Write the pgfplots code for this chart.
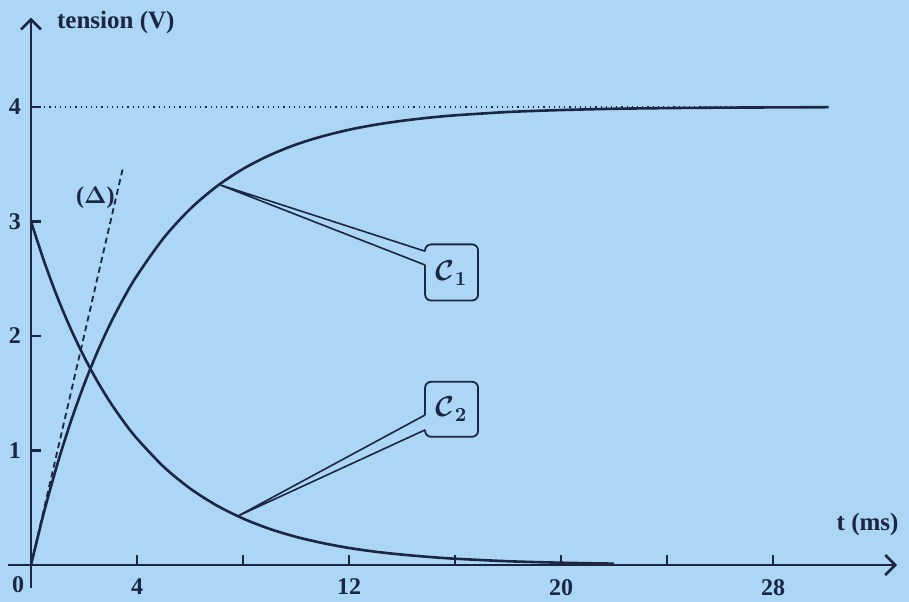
\documentclass[border=0pt]{standalone}
\usepackage{pgfplots}
\pgfplotsset{compat=1.18}
\usepackage{bm}
\usepackage{fontspec}
\setmainfont{Liberation Serif}
\usetikzlibrary{backgrounds,arrows.meta}

\definecolor{paper}{RGB}{172,214,246}
\definecolor{ink}{RGB}{28,38,66}

\begin{document}
\begin{tikzpicture}[show background rectangle, inner frame sep=0pt,
  background rectangle/.style={fill=paper, draw=none}]
\begin{axis}[
  scale only axis, width=444.5pt, height=285.1pt,
  xmin=-0.87, xmax=32.68, ymin=-0.2, ymax=4.78,
  axis lines=middle,
  axis line style={ink, line width=1.3pt, -{Straight Barb[length=5pt,width=10pt,line width=1.3pt]}},
  tick align=center, major tick length=5pt,
  tick style={ink, line width=1.2pt},
  xtick style={yshift=2.5pt},
  ytick style={xshift=2.5pt},
  xtick={4,8,...,28}, xticklabels={4,,12,,20,,28},
  ytick={1,2,3,4},
  ticklabel style={font=\bfseries\fontsize{12}{13}\selectfont, text=ink},
  xticklabel style={yshift=-1pt},
  yticklabel style={xshift=1pt},
  /pgf/number format/assume math mode=true,
  clip=false,
]
% callout for C1
\draw[ink, line width=0.8pt] (axis cs:14.87,2.62) -- (axis cs:7.1,3.322) -- (axis cs:14.87,2.74);
\draw[ink, line width=0.9pt, rounded corners=3pt] (axis cs:14.87,2.74) -- (axis cs:14.87,2.80) -- (axis cs:16.87,2.80) -- (axis cs:16.87,2.31) -- (axis cs:14.87,2.31) -- (axis cs:14.87,2.62);
\node[text=ink, font=\fontsize{14}{15}\selectfont] at (axis cs:15.87,2.55) {$\bm{\mathcal{C}}_{\bm{1}}$};
% callout for C2
\draw[ink, line width=0.8pt] (axis cs:14.87,1.31) -- (axis cs:7.8,0.427) -- (axis cs:14.87,1.18);
\draw[ink, line width=0.9pt, rounded corners=3pt] (axis cs:14.87,1.18) -- (axis cs:14.87,1.12) -- (axis cs:16.87,1.12) -- (axis cs:16.87,1.60) -- (axis cs:14.87,1.60) -- (axis cs:14.87,1.31);
\node[text=ink, font=\fontsize{14}{15}\selectfont] at (axis cs:15.87,1.36) {$\bm{\mathcal{C}}_{\bm{2}}$};

% asymptote and tangent at the origin
\addplot[ink, line width=0.6pt, dotted] coordinates {(0.3,4) (30,4)};
\addplot[ink, line width=0.9pt, dash pattern=on 3pt off 2pt] coordinates {(0,0) (3.47,3.47)};

% C1 : charging curve
\addplot[ink, line width=1.3pt, smooth] coordinates {
 (0,0) (0.5,0.470) (1,0.885) (1.5,1.251) (2,1.574) (2.5,1.859) (3,2.111)
 (3.5,2.332) (4,2.528) (5,2.854) (6,3.108) (7,3.305) (8,3.459) (9,3.578)
 (10,3.672) (11,3.744) (12,3.801) (13,3.845) (14,3.879) (15,3.906)
 (16,3.927) (18,3.956) (20,3.973) (22,3.984) (24,3.990) (26,3.994)
 (28,3.996) (30.1,3.998)};
% C2 : decaying curve
\addplot[ink, line width=1.3pt, smooth] coordinates {
 (0,3) (0.5,2.648) (1,2.336) (1.5,2.062) (2,1.820) (2.5,1.606) (3,1.417)
 (3.5,1.251) (4,1.104) (5,0.859) (6,0.669) (7,0.521) (8,0.406) (9,0.316)
 (10,0.246) (11,0.192) (12,0.149) (13,0.116) (14,0.091) (15,0.071)
 (16,0.055) (18,0.033) (20,0.020) (22,0.012)};

% labels
\node[text=ink, font=\bfseries\fontsize{12}{13}\selectfont] at (axis cs:2.43,3.21) {($\bm{\Delta}$)};
\node[text=ink, font=\bfseries\fontsize{12.5}{14}\selectfont, anchor=west] at (axis cs:0.72,4.74) {tension (V)};
\node[text=ink, font=\bfseries\fontsize{12.5}{14}\selectfont, anchor=east] at (axis cs:33.0,0.35) {t (ms)};
\node[text=ink, font=\bfseries\fontsize{12}{13}\selectfont] at (axis cs:-0.49,-0.17) {0};

% page frame
\path (axis cs:-1.17,-0.288) rectangle (axis cs:33.13,4.934);
\end{axis}
\end{tikzpicture}
\end{document}
